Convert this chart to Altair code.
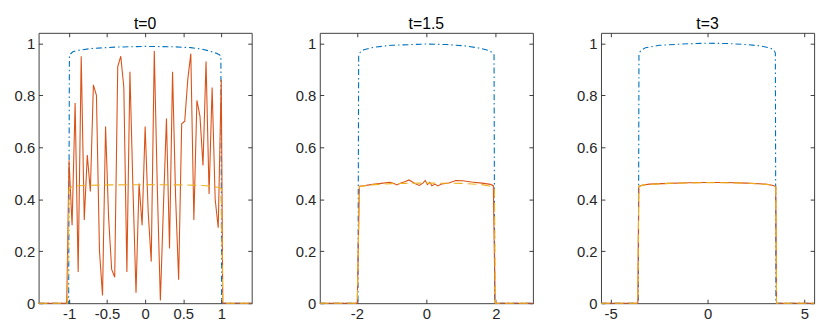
import altair as alt
import pandas as pd

W, H = 216, 274
FONT = "Liberation Sans"
BLUE, RED, YEL = "#0072BD", "#D95319", "#EDB120"

# ---------------- t = 0 ----------------
t0_blue_x = [-1.4, -1.005, -0.995, -0.95, -0.9, -0.7, -0.4, 0.0, 0.4, 0.6, 0.75, 0.85, 0.93, 0.98, 0.995, 1.005, 1.4]
t0_blue_y = [0, 0, 0.955, 0.967, 0.972, 0.980, 0.985, 0.988, 0.986, 0.983, 0.977, 0.970, 0.962, 0.955, 0.95, 0, 0]

t0_red_x = [-1.4, -1.03,
            -1.00, -0.96, -0.92, -0.88, -0.84, -0.80, -0.76, -0.72, -0.68, -0.64,
            -0.60, -0.56, -0.52, -0.48, -0.44, -0.40, -0.36, -0.32, -0.28, -0.24,
            -0.20, -0.16, -0.12, -0.08, -0.04, 0.00, 0.04, 0.08, 0.12, 0.16,
            0.20, 0.24, 0.28, 0.32, 0.36, 0.40, 0.44, 0.48, 0.52, 0.56,
            0.60, 0.64, 0.68, 0.72, 0.76, 0.80, 0.84, 0.88, 0.92, 0.96, 1.00,
            1.02, 1.4]
t0_red_y = [0, 0,
            0.55, 0.30, 0.77, 0.12, 0.95, 0.32, 0.57, 0.43, 0.84, 0.80,
            0.20, 0.03, 0.68, 0.33, 0.13, 0.10, 0.91, 0.95, 0.83, 0.12,
            0.89, 0.44, 0.04, 0.46, 0.30, 0.68, 0.35, 0.16, 0.97, 0.44,
            0.01, 0.37, 0.71, 0.21, 0.89, 0.41, 0.09, 0.69, 0.70, 0.86,
            0.96, 0.32, 0.78, 0.72, 0.53, 0.93, 0.42, 0.83, 0.40, 0.29, 0.86,
            0, 0]

t0_yel_x = [-1.4, -1.02, -1.0, -0.96, -0.9, -0.5, 0.0, 0.5, 0.8, 0.92, 0.96, 1.0, 1.02, 1.4]
t0_yel_y = [0, 0, 0.44, 0.448, 0.452, 0.455, 0.456, 0.455, 0.452, 0.448, 0.445, 0.44, 0, 0]

# ---------------- t = 1.5 ----------------
t15_blue_x = [-3.07, -1.97, -1.95, -1.9, -1.8, -1.5, -1.0, 0.0, 0.6, 1.1, 1.5, 1.8, 1.92, 1.95, 1.97, 3.07]
t15_blue_y = [0, 0, 0.955, 0.966, 0.975, 0.985, 0.992, 0.997, 0.995, 0.990, 0.982, 0.972, 0.962, 0.955, 0, 0]

t15_red_x = [-3.07, -1.99, -1.93, -1.8, -1.6, -1.3, -1.05, -0.93, -0.85, -0.75, -0.6, -0.5,
             -0.4, -0.3, -0.2, -0.1, -0.03, 0.03, 0.1, 0.16, 0.25, 0.33, 0.45, 0.65,
             0.85, 1.05, 1.3, 1.6, 1.85, 1.93, 1.98, 3.07]
t15_red_y = [0, 0, 0.45, 0.452, 0.456, 0.461, 0.465, 0.46, 0.455, 0.461, 0.468, 0.474,
             0.466, 0.458, 0.453, 0.462, 0.472, 0.456, 0.465, 0.452, 0.458, 0.451, 0.459, 0.462,
             0.472, 0.471, 0.466, 0.462, 0.457, 0.452, 0, 0]

t15_yel_x = [-3.07, -1.99, -1.93, -1.6, -1.0, 0.0, 1.0, 1.6, 1.9, 1.96, 1.99, 3.07]
t15_yel_y = [0, 0, 0.448, 0.455, 0.46, 0.462, 0.461, 0.456, 0.448, 0.44, 0, 0]

# ---------------- t = 3 ----------------
t3_blue_x = [-5.5, -3.57, -3.54, -3.45, -3.2, -2.5, -1.0, 0.0, 1.0, 2.0, 2.7, 3.2, 3.42, 3.5, 3.53, 5.5]
t3_blue_y = [0, 0, 0.958, 0.972, 0.983, 0.992, 0.998, 1.0, 0.999, 0.995, 0.990, 0.982, 0.975, 0.962, 0, 0]

t3_red_x = [-5.5, -3.6, -3.55, -3.4, -3.0, -2.0, -1.0, 0.0, 1.0, 2.0, 3.0, 3.4, 3.52, 3.56, 5.5]
t3_red_y = [0, 0, 0.449, 0.454, 0.458, 0.461, 0.463, 0.464, 0.464, 0.462, 0.458, 0.453, 0.448, 0, 0]

t3_yel_x = [-5.5, -3.6, -3.55, -3.3, -2.0, 0.0, 2.0, 3.3, 3.52, 3.56, 5.5]
t3_yel_y = [0, 0, 0.448, 0.455, 0.461, 0.464, 0.462, 0.455, 0.447, 0, 0]

y_ticks = [0, 0.2, 0.4, 0.6, 0.8, 1]

panels = [
    ("t=0", [-1.4, 1.4], [-1, -0.5, 0, 0.5, 1],
     (t0_blue_x, t0_blue_y), (t0_red_x, t0_red_y), (t0_yel_x, t0_yel_y)),
    ("t=1.5", [-3.07, 3.07], [-2, 0, 2],
     (t15_blue_x, t15_blue_y), (t15_red_x, t15_red_y), (t15_yel_x, t15_yel_y)),
    ("t=3", [-5.5, 5.5], [-5, 0, 5],
     (t3_blue_x, t3_blue_y), (t3_red_x, t3_red_y), (t3_yel_x, t3_yel_y)),
]

AXIS_STYLE = dict(title=None, grid=True, ticks=False, domain=False, labelPadding=4,
                  labelFont=FONT, labelFontSize=15, labelColor="#262626",
                  gridColor="#262626", gridWidth=0.9, gridOpacity=1,
                  labelExpr="'' + datum.value")


def make_panel(title, xdom, xticks, blue, red, yel):
    xscale = alt.Scale(domain=xdom, nice=False, zero=False)
    yscale = alt.Scale(domain=[0, 1.04], nice=False, zero=False)
    xaxis = alt.Axis(values=xticks, gridDash=[4, H - 8], **AXIS_STYLE)
    yaxis = alt.Axis(values=y_ticks, gridDash=[4, W - 8], **AXIS_STYLE)

    def line(xy, color, dash):
        df = pd.DataFrame({"x": xy[0], "y": xy[1]})
        kw = dict(color=color, strokeWidth=1.1)
        if dash:
            kw["strokeDash"] = dash
        return alt.Chart(df).mark_line(**kw).encode(
            x=alt.X("x:Q", scale=xscale, axis=xaxis),
            y=alt.Y("y:Q", scale=yscale, axis=yaxis),
        )

    return alt.layer(
        line(blue, BLUE, [6, 3, 1.5, 3]),
        line(red, RED, None),
        line(yel, YEL, [9, 5]),
    ).properties(
        width=W, height=H,
        title=alt.TitleParams(title, fontSize=16, font=FONT, fontWeight="normal",
                              color="#000000", offset=1),
    )


chart = alt.hconcat(
    *[make_panel(*p) for p in panels], spacing=69, bounds="flush"
).properties(background="white").configure_view(
    stroke="#404040", strokeWidth=1
)

chart.save("out.html", embed_options={"renderer": "svg", "actions": False})
